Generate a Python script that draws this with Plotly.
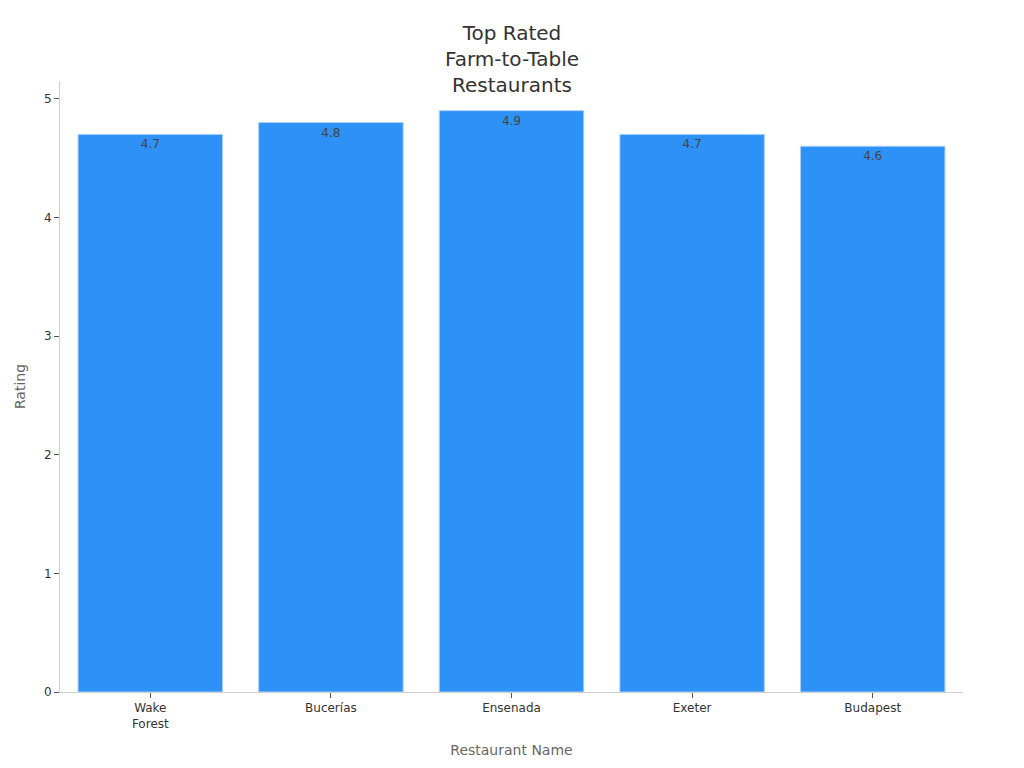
import plotly.graph_objects as go

restaurants = ["Wake<br>Forest", "Bucerías", "Ensenada", "Exeter", "Budapest"]
ratings = [4.7, 4.8, 4.9, 4.7, 4.6]
y_ticks = [0, 1, 2, 3, 4, 5]

fig = go.Figure()

fig.add_trace(
    go.Bar(
        x=restaurants,
        y=ratings,
        text=[str(r) for r in ratings],
        textposition="inside",
        insidetextanchor="end",
        textfont=dict(color="#444444", size=12),
        marker=dict(color="#2E91F7", line=dict(color="#A9CFF7", width=1)),
    )
)

# page body has an 8px margin, so size the figure to fit the window
fig.update_layout(
    width=1008,
    height=752,
    font=dict(family="DejaVu Sans", color="#333333"),
    title=dict(
        text="Top Rated<br>Farm-to-Table<br>Restaurants",
        x=0.5,
        xanchor="center",
        y=0.957,
        yanchor="middle",
        font=dict(size=20, color="#333333"),
    ),
    plot_bgcolor="white",
    paper_bgcolor="white",
    bargap=0.2,
    margin=dict(l=52, r=53, t=73, b=68),
    showlegend=False,
)

fig.update_xaxes(
    title_text="Restaurant Name",
    title_font=dict(size=14, color="#666666"),
    tickfont=dict(size=12, color="#333333"),
    showline=True,
    linecolor="#D0D0D0",
    ticks="outside",
    tickcolor="#555555",
    ticklen=5,
    showgrid=False,
    automargin=False,
)

fig.update_yaxes(
    title_text="Rating",
    title_font=dict(size=14, color="#666666"),
    tickfont=dict(size=12, color="#333333"),
    tickvals=y_ticks,
    range=[0, 5.15],
    showline=True,
    linecolor="#D0D0D0",
    ticks="outside",
    tickcolor="#555555",
    ticklen=5,
    showgrid=False,
    zeroline=False,
    automargin=False,
)

fig.write_html("out.html")
